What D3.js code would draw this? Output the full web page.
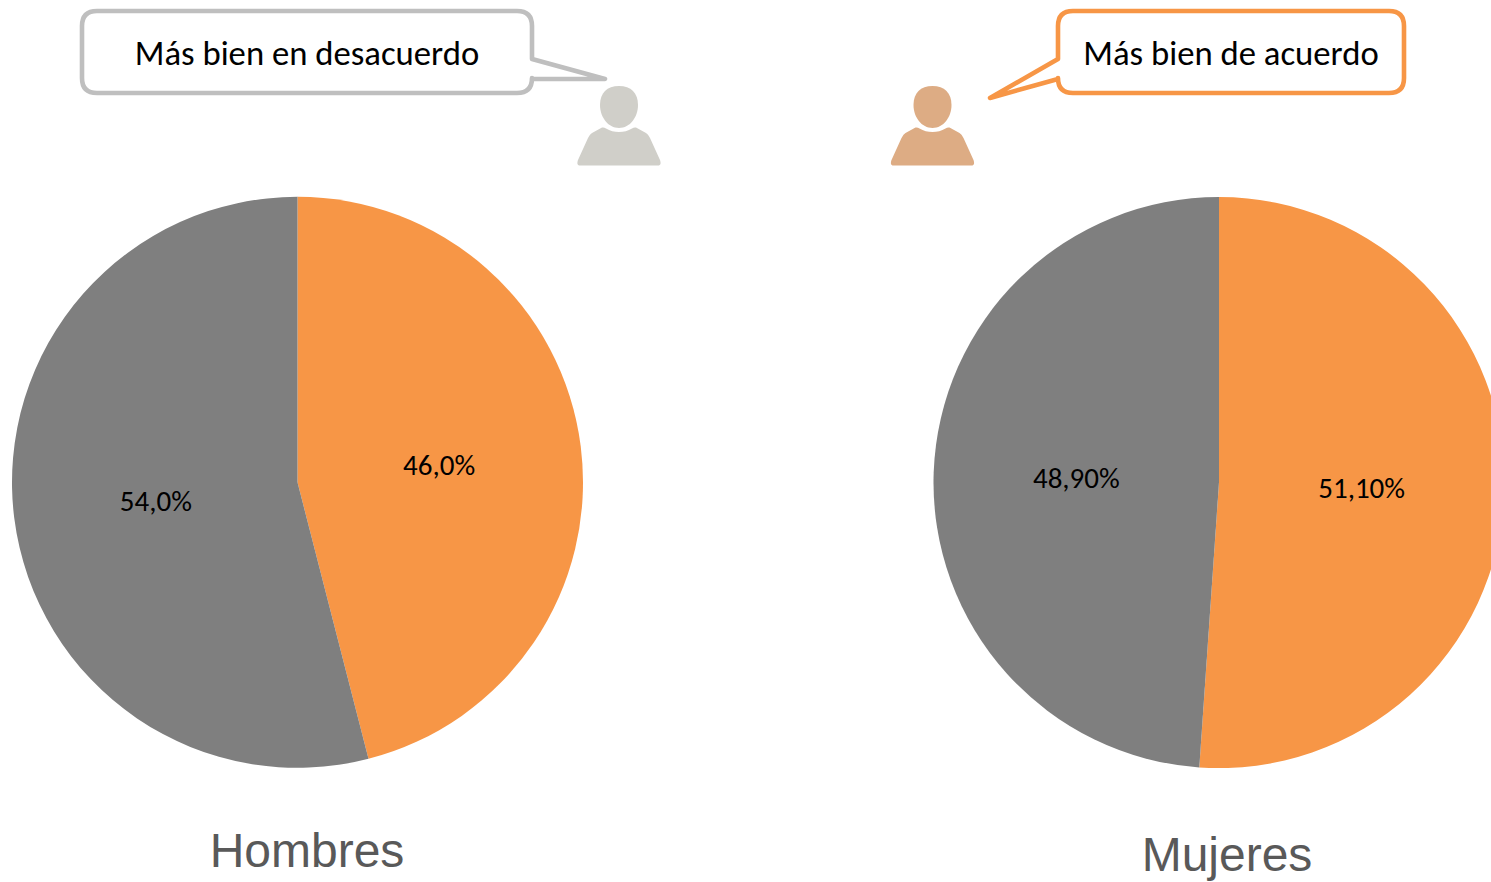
<!DOCTYPE html>
<html><head><meta charset="utf-8">
<script src="https://cdn.jsdelivr.net/npm/d3@7/dist/d3.min.js"></script>
<style>html,body{margin:0;padding:0;background:#fff;overflow:hidden}svg{display:block}</style>
</head><body><svg id="c" width="1491" height="882"></svg>
<script>
const groups = ["Hombres", "Mujeres"];
const categories = ["Más bien de acuerdo", "Más bien en desacuerdo"];
const hombresValues = [46.0, 54.0];
const mujeresValues = [51.1, 48.9];
const hombresLabels = ["46,0%", "54,0%"];
const mujeresLabels = ["51,10%", "48,90%"];
const sliceColors = ["#f79646", "#7f7f7f"];

const svg = d3.select("#c");
const color = d3.scaleOrdinal().domain(categories).range(sliceColors);
const R = 285.5;
const pie = d3.pie().value(d => d.v).sort(null);
const arc = d3.arc().innerRadius(0).outerRadius(R);

function drawPie(cx, cy, name, vals, labs, tx, ty) {
  const g = svg.append("g").attr("transform", `translate(${cx},${cy})`);
  const data = pie(categories.map((c, i) => ({c, v: vals[i], l: labs[i]})));
  g.selectAll("path").data(data).join("path")
    .attr("d", arc).attr("fill", d => color(d.data.c));
  g.selectAll("text").data(data).join("text")
    .attr("transform", d => `translate(${arc.centroid(d)})`)
    .attr("text-anchor", "middle").attr("dy", "0.37em")
    .attr("font-family", "Carlito, Lato, sans-serif").attr("font-size", 29)
    .attr("fill", "#000").text(d => d.data.l);
  svg.append("text").attr("x", tx).attr("y", ty).attr("text-anchor", "middle")
    .attr("font-family", "'Liberation Sans', Arial, sans-serif").attr("font-size", 48)
    .attr("fill", "#595959").text(name);
}
drawPie(297.5, 482.3, groups[0], hombresValues, hombresLabels, 307, 867);
drawPie(1219, 482.6, groups[1], mujeresValues, mujeresLabels, 1227, 871);

// Speech bubbles
function bubble(x0, x1, y0, y1, r, tail, stroke, label, tx) {
  const p = d3.path();
  p.moveTo(x0 + r, y0);
  p.lineTo(x1 - r, y0);
  p.quadraticCurveTo(x1, y0, x1, y0 + r);
  if (tail.side === "right") {
    p.lineTo(x1, tail.a); p.lineTo(tail.tx, tail.ty); p.lineTo(x1, tail.b);
  }
  p.lineTo(x1, y1 - r);
  p.quadraticCurveTo(x1, y1, x1 - r, y1);
  p.lineTo(x0 + r, y1);
  p.quadraticCurveTo(x0, y1, x0, y1 - r);
  if (tail.side === "left") {
    p.lineTo(x0, tail.b); p.lineTo(tail.tx, tail.ty); p.lineTo(x0, tail.a);
  }
  p.lineTo(x0, y0 + r);
  p.quadraticCurveTo(x0, y0, x0 + r, y0);
  p.closePath();
  svg.append("path").attr("d", p.toString()).attr("fill", "#fff")
    .attr("stroke", stroke).attr("stroke-width", 4.6).attr("stroke-linejoin", "round");
  svg.append("text").attr("x", tx).attr("y", 65).attr("text-anchor", "middle")
    .attr("font-family", "Carlito, Lato, sans-serif").attr("font-size", 34.7)
    .attr("fill", "#000").text(label);
}
bubble(82, 532, 11, 93, 15, {side: "right", a: 59, tx: 605, ty: 79, b: 79}, "#bfbfbf", categories[1], 307);
bubble(1058, 1404, 11, 93, 15, {side: "left", a: 59, tx: 990, ty: 98, b: 79}, "#f79646", categories[0], 1231);

// Person icons
function person(cx, fill) {
  const g = svg.append("g").attr("transform", `translate(${cx},0)`).attr("fill", fill);
  g.append("path").attr("d", "M0,86 C12,86 19,93 19,105 C19,117 11,128 0,128 C-11,128 -19,117 -19,105 C-19,93 -12,86 0,86 Z");
  g.append("path").attr("d", "M-39,165.5 C-42,165.5 -42,163 -41,160 L-31,138 Q-29,134 -27,133 L-17,127.5 Q-15,127 -13,128.5 Q-7,132 0,132 Q7,132 13,128.5 Q15,127 17,127.5 L27,133 Q29,134 31,138 L41,160 C42,163 42,165.5 39,165.5 Z");
}
person(619, "#d0cfc9");
person(932.5, "#ddac84");
</script></body></html>
